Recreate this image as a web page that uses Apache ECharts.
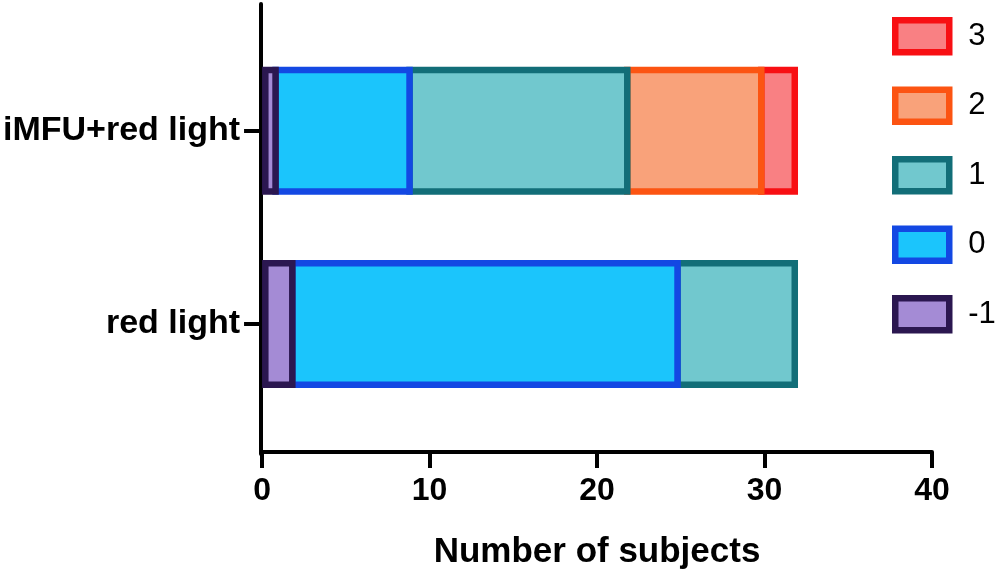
<!DOCTYPE html>
<html>
<head>
<meta charset="utf-8">
<script src="https://cdn.jsdelivr.net/npm/echarts@6/dist/echarts.min.js"></script>
<style>html,body{margin:0;padding:0;background:#fff}#c{width:998px;height:575px}</style>
</head>
<body>
<div id="c"></div>
<script>
const categories = ['red light', 'iMFU+red light'];
const scoreNames = ['-1', '0', '1', '2', '3'];
const valsMinus1 = [2, 1];
const vals0 = [23, 8];
const vals1 = [7, 13];
const vals2 = [0, 8];
const vals3 = [0, 2];
const xTicks = [0, 10, 20, 30, 40];
const fills = ['#A48BD5', '#1BC5FC', '#71C8CE', '#F9A27A', '#F98083'];
const borders = ['#2B1750', '#1348E3', '#126E78', '#FC5412', '#F80F13'];

const allVals = [valsMinus1, vals0, vals1, vals2, vals3];
const font = 'Liberation Sans, Arial, Helvetica, sans-serif';
const BAR_H = 128;
const BW = 6.5;

// build stacked [catIndex, start, end] items
const cum = categories.map(() => 0);
const series = scoreNames.map((name, i) => {
  const data = [];
  allVals[i].forEach((v, c) => {
    const s = cum[c];
    cum[c] += v;
    if (v > 0) data.push([c, s, s + v]);
  });
  return {
    name: name,
    type: 'custom',
    xAxisIndex: 0,
    yAxisIndex: 0,
    z: 10 - i,
    encode: { x: [1, 2], y: 0 },
    itemStyle: { color: fills[i], borderColor: borders[i], borderWidth: BW },
    data: data,
    renderItem: function (params, api) {
      const cat = api.value(0), s = api.value(1), e = api.value(2);
      const p0 = api.coord([s, cat]);
      const p1 = api.coord([e, cat]);
      const x0 = p0[0] - (s > 0 ? BW : 0);
      const w = p1[0] - x0;
      const y0 = p0[1] - BAR_H / 2;
      return {
        type: 'rect',
        shape: { x: x0 + BW / 2, y: y0 + BW / 2, width: w - BW, height: BAR_H - BW },
        style: { fill: fills[i], stroke: borders[i], lineWidth: BW }
      };
    }
  };
});

const chart = echarts.init(document.getElementById('c'));
chart.setOption({
  animation: false,
  backgroundColor: '#fff',
  grid: [
    { left: 261, right: 66, top: 34, bottom: 154.3 },
    { left: 261, right: 66, top: 4, bottom: 121 }
  ],
  xAxis: [
    {
      gridIndex: 0, type: 'value', min: xTicks[0], max: xTicks[xTicks.length - 1], interval: 10,
      offset: 31.3,
      axisLine: { show: true, lineStyle: { color: '#000', width: 4 } },
      axisTick: { show: true, length: 16, lineStyle: { color: '#000', width: 4 } },
      axisLabel: { color: '#000', fontSize: 32, fontWeight: 'bold', fontFamily: font, margin: 23 },
      splitLine: { show: false },
      name: 'Number of subjects', nameLocation: 'middle', nameGap: 83,
      nameTextStyle: { color: '#000', fontSize: 35, fontWeight: 'bold', fontFamily: font }
    },
    { gridIndex: 1, type: 'value', show: false }
  ],
  yAxis: [
    {
      gridIndex: 0, type: 'category', data: categories,
      axisLine: { show: false },
      axisTick: { show: true, alignWithLabel: true, length: 18, lineStyle: { color: '#000', width: 4 } },
      axisLabel: { color: '#000', fontSize: 34, fontWeight: 'bold', fontFamily: font, margin: 22 }
    },
    {
      gridIndex: 1, type: 'value', min: 0, max: 1,
      axisLine: { show: true, lineStyle: { color: '#000', width: 4 } },
      axisTick: { show: false }, axisLabel: { show: false }, splitLine: { show: false }
    }
  ],
  legend: {
    data: ['3', '2', '1', '0', '-1'],
    orient: 'vertical',
    left: 892, top: 17, padding: 0,
    icon: 'rect',
    itemWidth: 54, itemHeight: 32, itemGap: 31,
    itemStyle: { borderWidth: BW },
    textStyle: { color: '#000', fontSize: 31, lineHeight: 32, fontFamily: font, padding: [0, 0, 0, 14] }
  },
  series: series
});
</script>
</body>
</html>
